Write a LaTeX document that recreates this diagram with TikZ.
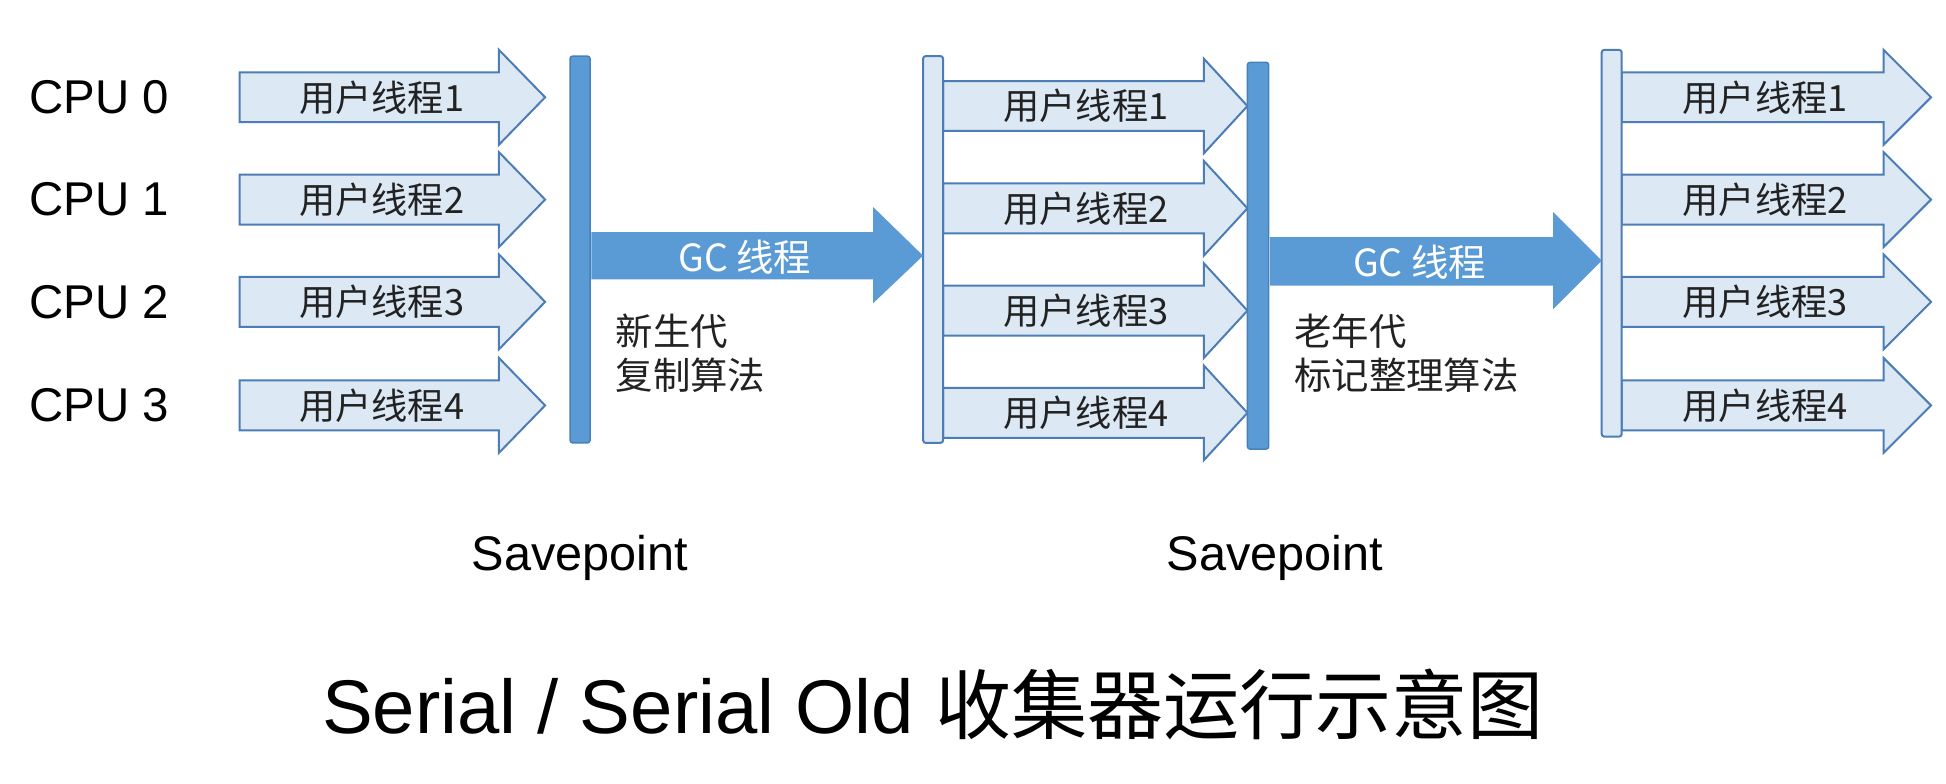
\documentclass[tikz,border=0pt]{standalone}
\usepackage{fontspec}
\setmainfont{Liberation Sans}
\newfontfamily\cjk{Noto Sans CJK SC}
\definecolor{lt}{HTML}{DDE8F5}
\definecolor{ltb}{HTML}{4C7DB4}
\definecolor{dk}{HTML}{5B9BD5}
\definecolor{dkb}{HTML}{4A80B8}
\definecolor{txt}{HTML}{222222}
\newcommand{\uarr}[6]{% x0, cy, bodyend, tip, name, text
  \draw[uarrow] (#1,#2-20) -- (#3,#2-20) -- (#3,#2-38) -- (#4,#2) -- (#3,#2+38) -- (#3,#2+20) -- (#1,#2+20) -- cycle;
  \node[utext] (#5) at ({(#1+#3)/2+10},#2) {#6};}
\begin{document}
\begin{tikzpicture}[x=1pt,y=-1pt,
  uarrow/.style={fill=lt,draw=ltb,line width=1.6pt,line join=miter},
  utext/.style={font=\cjk\fontsize{29}{29}\selectfont,text=txt},
  darkbar/.style={fill=dk,draw=dkb,line width=1.2pt,rounded corners=2pt},
  lightbar/.style={fill=lt,draw=ltb,line width=1.6pt,rounded corners=2pt},
  gcarrow/.style={fill=dk,draw=none},
  gctext/.style={font=\cjk\fontsize{30}{30}\selectfont,text=white},
  label/.style={font=\fontsize{38}{38}\selectfont,text=black},
  note/.style={font=\cjk\fontsize{30}{35}\selectfont,text=txt,align=left,anchor=north west},
  save/.style={font=\fontsize{39}{39}\selectfont,text=black}]
\useasboundingbox[fill=white] (0,0) rectangle (1560,628);
% CPU labels
\foreach \i/\y in {0/78,1/160,2/242,3/325}{
  \node[label,anchor=west] (cpu\i) at (20,\y) {CPU \i};}
% left arrows
\foreach \i/\y in {1/78,2/160,3/242,4/325}{ \uarr{192}{\y}{400}{437}{la\i}{用户线程\i} }
% middle arrows
\foreach \i/\y in {1/85,2/167,3/249,4/331}{ \uarr{756}{\y}{965}{1000}{ma\i}{用户线程\i} }
% right arrows
\foreach \i/\y in {1/78,2/160,3/242,4/325}{ \uarr{1300}{\y}{1510}{1548}{ra\i}{用户线程\i} }
% bars
\draw[darkbar] (457,45) rectangle (473,355);
\draw[lightbar] (740,45) rectangle (756,355);
\draw[darkbar] (1000,50) rectangle (1017,360);
\draw[lightbar] (1284,40) rectangle (1300,350);
% GC arrows
\fill[gcarrow] (474,186) -- (700,186) -- (700,166) -- (740,205) -- (700,243) -- (700,224) -- (474,224) -- cycle;
\node[gctext] (gc1) at (597,206) {GC 线程};
\fill[gcarrow] (1018,190) -- (1245,190) -- (1245,170) -- (1284,209) -- (1245,248) -- (1245,229) -- (1018,229) -- cycle;
\node[gctext] (gc2) at (1138,210) {GC 线程};
% notes
\node[note] (n1) at (490,248) {新生代\\复制算法};
\node[note] (n2) at (1034,248) {老年代\\标记整理算法};
% savepoints
\node[save] (s1) at (465,447) {Savepoint};
\node[save] (s2) at (1022,447) {Savepoint};
% title
\node[font=\fontsize{61}{61}\selectfont,text=black] (title) at (748,565) {Serial / Serial Old {\cjk 收集器运行示意图}};
\end{tikzpicture}
\end{document}
